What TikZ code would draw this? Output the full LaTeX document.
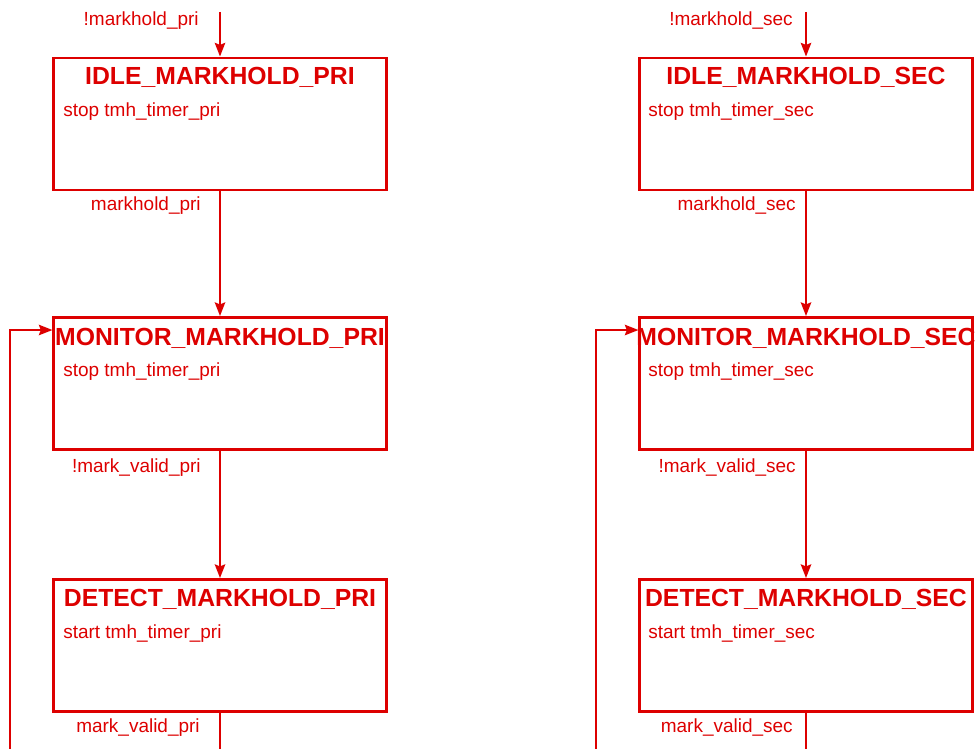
\documentclass[tikz,border=0pt]{standalone}
\usepackage{fontspec}
\setmainfont{Liberation Sans}
\usetikzlibrary{arrows.meta}
\definecolor{fsmred}{RGB}{221,0,0}

\tikzset{
  statebox/.style={draw=fsmred, line width=2.1pt, minimum width=8.3cm, minimum height=3.3cm, inner sep=0pt},
  statename/.style={text=fsmred, font=\fontsize{17.6}{20}\selectfont\bfseries, anchor=base, inner sep=0pt},
  action/.style={text=fsmred, font=\fontsize{13.5}{16}\selectfont, anchor=base west, inner sep=0pt},
  cond/.style={text=fsmred, font=\fontsize{13.5}{16}\selectfont, anchor=base east, inner sep=0pt},
  flow/.style={draw=fsmred, line width=1.5pt, -{Stealth[length=0.34cm,width=0.26cm,inset=0.05cm]}},
  wire/.style={draw=fsmred, line width=1.5pt}
}

\begin{document}
\begin{tikzpicture}[x=0.025cm,y=-0.025cm]
\useasboundingbox (0,0) rectangle (975,749);
% primary
\node[statebox] (idlepri) at (220,124) {};
\node[statebox] (monpri) at (220,383.5) {};
\node[statebox] (detpri) at (220,645.5) {};
\node[statename] (idlepriname) at (220,85) {IDLE\_MARKHOLD\_PRI};
\node[action] (idlepriact) at (63,117) {stop tmh\_timer\_pri};
\node[statename] (monpriname) at (220,345) {MONITOR\_MARKHOLD\_PRI};
\node[action] (monpriact) at (63,376) {stop tmh\_timer\_pri};
\node[statename] (detpriname) at (220,606) {DETECT\_MARKHOLD\_PRI};
\node[action] (detpriact) at (63,638) {start tmh\_timer\_pri};
\coordinate (inpri) at (220,12);
\coordinate (outpri) at (220,760);
\coordinate (backpri) at (10,760);
\draw[flow] (inpri) -- (idlepri);
\draw[flow] (idlepri) -- (monpri);
\draw[flow] (monpri) -- (detpri);
\draw[wire] (detpri) -- (outpri);
\draw[flow] (backpri) |- ([yshift=-0.35cm]monpri.north west);
\node[cond] (notholdpri) at (199,26) {!markhold\_pri};
\node[cond] (holdpri) at (201,210) {markhold\_pri};
\node[cond] (notvalidpri) at (201,472) {!mark\_valid\_pri};
\node[cond] (validpri) at (200,732) {mark\_valid\_pri};
% secondary
\node[statebox] (idlesec) at (806,124) {};
\node[statebox] (monsec) at (806,383.5) {};
\node[statebox] (detsec) at (806,645.5) {};
\node[statename] (idlesecname) at (806,85) {IDLE\_MARKHOLD\_SEC};
\node[action] (idlesecact) at (648,117) {stop tmh\_timer\_sec};
\node[statename] (monsecname) at (806,345) {MONITOR\_MARKHOLD\_SEC};
\node[action] (monsecact) at (648,376) {stop tmh\_timer\_sec};
\node[statename] (detsecname) at (806,606) {DETECT\_MARKHOLD\_SEC};
\node[action] (detsecact) at (648,638) {start tmh\_timer\_sec};
\coordinate (insec) at (806,12);
\coordinate (outsec) at (806,760);
\coordinate (backsec) at (596,760);
\draw[flow] (insec) -- (idlesec);
\draw[flow] (idlesec) -- (monsec);
\draw[flow] (monsec) -- (detsec);
\draw[wire] (detsec) -- (outsec);
\draw[flow] (backsec) |- ([yshift=-0.35cm]monsec.north west);
\node[cond] (notholdsec) at (793,26) {!markhold\_sec};
\node[cond] (holdsec) at (796,210) {markhold\_sec};
\node[cond] (notvalidsec) at (796,472) {!mark\_valid\_sec};
\node[cond] (validsec) at (793,732) {mark\_valid\_sec};
\end{tikzpicture}
\end{document}
